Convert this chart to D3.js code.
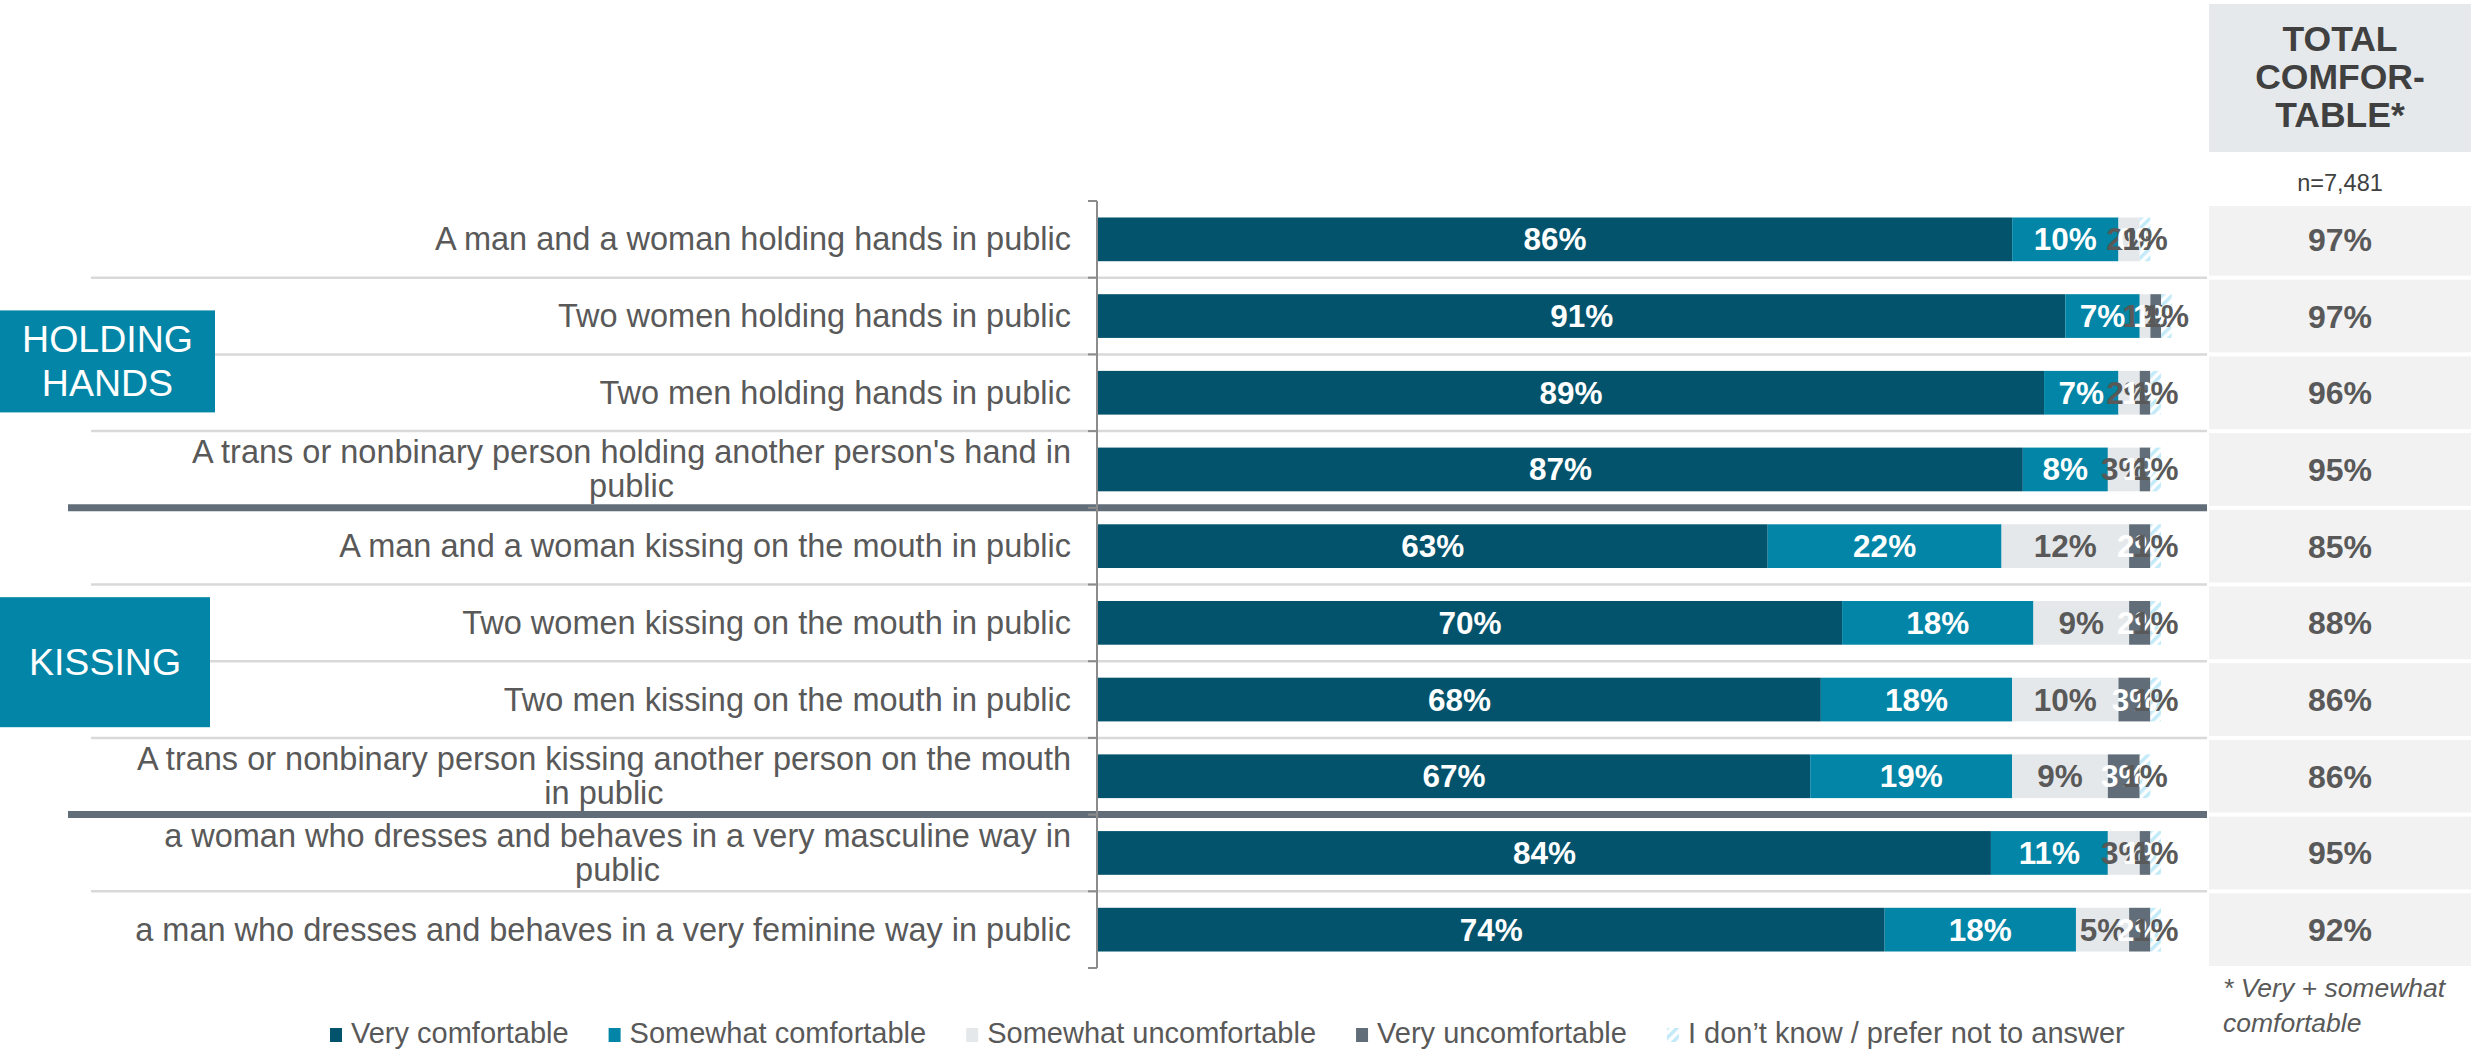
<!DOCTYPE html>
<html><head><meta charset="utf-8">
<script src="https://cdn.jsdelivr.net/npm/d3@7"></script>
<style>
body{margin:0;background:#fff;}
svg{display:block;font-family:"Liberation Sans",Arial,Helvetica,sans-serif;}
</style>
</head><body>
<svg id="chart" width="2483" height="1050"></svg>
<script>
// ---------- DATA ----------
const categories = [
  "A man and a woman holding hands in public",
  "Two women holding hands in public",
  "Two men holding hands in public",
  "A trans or nonbinary person holding another person's hand in\npublic",
  "A man and a woman kissing on the mouth in public",
  "Two women kissing on the mouth in public",
  "Two men kissing on the mouth in public",
  "A trans or nonbinary person kissing another person on the mouth\nin public",
  "a woman who dresses and behaves in a very masculine way in\npublic",
  "a man who dresses and behaves in a very feminine way in public"
];
const seriesNames = ["Very comfortable", "Somewhat comfortable", "Somewhat uncomfortable", "Very uncomfortable", "I don\u2019t know / prefer not to answer"];
const veryComfortable      = [86, 91, 89, 87, 63, 70, 68, 67, 84, 74];
const somewhatComfortable  = [10,  7,  7,  8, 22, 18, 18, 19, 11, 18];
const somewhatUncomfortable= [ 2,  1,  2,  3, 12,  9, 10,  9,  3,  5];
const veryUncomfortable    = [ 0,  1,  1,  1,  2,  2,  3,  3,  1,  2];
const dontKnow             = [ 1,  1,  1,  1,  1,  1,  1,  1,  1,  1];
const totalComfortable     = [97, 97, 96, 95, 85, 88, 86, 86, 95, 92];
const groupNames = [["HOLDING", "HANDS"], ["KISSING"]];
const groupFirstRow = [0, 4];
const groupLastRow  = [3, 7];
const totalHeader = ["TOTAL", "COMFOR-", "TABLE*"];
const sampleSize = "n=7,481";
const footnote = ["* Very + somewhat", "comfortable"];

// ---------- STYLE ----------
const colors = ["#03536c", "#0285a6", "#e5e8eb", "#616e79", "url(#hatch)"];
const labelColors = ["#ffffff", "#ffffff", "#595959", "#ffffff", "#595959"];
const textGrey = "#595959";

const svg = d3.select("#chart");
const defs = svg.append("defs");
const pat = defs.append("pattern").attr("id", "hatch")
  .attr("patternUnits", "userSpaceOnUse").attr("width", 7).attr("height", 7)
  .attr("patternTransform", "rotate(45)");
pat.append("rect").attr("width", 7).attr("height", 7).attr("fill", "#ffffff");
pat.append("rect").attr("width", 3.5).attr("height", 7).attr("fill", "#c2eaf8");

const keys = ["s0", "s1", "s2", "s3", "s4"];
const table = categories.map((c, i) => ({
  idx: i,
  s0: veryComfortable[i], s1: somewhatComfortable[i], s2: somewhatUncomfortable[i],
  s3: veryUncomfortable[i], s4: dontKnow[i]
}));
const stacked = d3.stack().keys(keys)(table);

const x = d3.scaleLinear().domain([0, 100]).range([1098, 2161]);
const y = d3.scaleBand().domain(d3.range(categories.length))
  .range([201, 968]).paddingInner(0.43).paddingOuter(0.215);
const step = y.step();
const top0 = y.range()[0];
const boundary = k => top0 + k * step;
const center = i => y(i) + y.bandwidth() / 2;

// ---------- RIGHT COLUMN ----------
const colX0 = 2209, colX1 = 2471, colCx = (colX0 + colX1) / 2;
svg.append("rect").attr("x", colX0).attr("y", 4).attr("width", colX1 - colX0).attr("height", 148)
  .attr("fill", "#e5e9ec");
svg.append("g").selectAll("text").data(totalHeader).join("text")
  .attr("x", colCx).attr("y", (d, i) => 51 + i * 38)
  .attr("text-anchor", "middle").attr("font-size", 35.5).attr("font-weight", "bold")
  .attr("fill", "#404040").text(d => d);
svg.append("text").attr("x", colCx).attr("y", 191).attr("text-anchor", "middle")
  .attr("font-size", 23.5).attr("fill", "#404040").text(sampleSize);

svg.append("g").selectAll("rect").data(totalComfortable).join("rect")
  .attr("x", colX0).attr("width", colX1 - colX0)
  .attr("y", (d, i) => boundary(i) + (i === 0 ? 5 : 2))
  .attr("height", (d, i) => step - (i === 0 ? 7 : 4))
  .attr("fill", "#f2f2f2");
svg.append("g").selectAll("text").data(totalComfortable).join("text")
  .attr("x", colCx).attr("y", (d, i) => center(i) + 11.5)
  .attr("text-anchor", "middle").attr("font-size", 32).attr("font-weight", "bold")
  .attr("fill", textGrey).text(d => d + "%");

// ---------- SEPARATORS ----------
const boldRows = groupLastRow.map(r => r + 1);
const sepG = svg.append("g");
d3.range(1, categories.length).forEach(k => {
  const bold = boldRows.includes(k);
  sepG.append("line")
    .attr("x1", bold ? 68 : 91).attr("x2", 2207)
    .attr("y1", boundary(k)).attr("y2", boundary(k))
    .attr("stroke", bold ? "#616e79" : "#d9d9d9")
    .attr("stroke-width", bold ? 7 : 2.5);
});

// ---------- GROUP BOXES ----------
const groupBoxH = [102, 130], groupBoxW = [215, 210], groupBoxOff = [7, 1];
groupNames.forEach((g, gi) => {
  const cy = (center(groupFirstRow[gi]) + center(groupLastRow[gi])) / 2 + groupBoxOff[gi];
  const h = groupBoxH[gi];
  svg.append("rect").attr("x", 0).attr("y", cy - h / 2).attr("width", groupBoxW[gi]).attr("height", h)
    .attr("fill", "#0285a6");
  const lh = 44;
  svg.append("g").selectAll("text").data(g).join("text")
    .attr("x", groupBoxW[gi] / 2)
    .attr("y", (d, i) => cy - (g.length - 1) * lh / 2 + i * lh + 13)
    .attr("text-anchor", "middle").attr("font-size", 37.5).attr("fill", "#ffffff").text(d => d);
});

// ---------- BARS ----------
const barG = svg.append("g");
stacked.forEach((s, si) => {
  barG.append("g").selectAll("rect").data(s).join("rect")
    .attr("x", d => x(d[0])).attr("width", d => x(d[1]) - x(d[0]))
    .attr("y", (d, i) => y(i)).attr("height", y.bandwidth())
    .attr("fill", colors[si]);
});
stacked.forEach((s, si) => {
  barG.append("g").selectAll("text").data(s).join("text")
    .attr("x", d => (x(d[0]) + x(d[1])) / 2)
    .attr("y", (d, i) => center(i) + 11)
    .attr("text-anchor", "middle").attr("font-size", 31.5).attr("font-weight", "bold")
    .attr("fill", labelColors[si])
    .text(d => (d[1] - d[0]) + "%");
});

// ---------- AXIS ----------
const axG = svg.append("g");
axG.append("line").attr("x1", 1097).attr("x2", 1097).attr("y1", top0).attr("y2", boundary(categories.length))
  .attr("stroke", "#8c8c8c").attr("stroke-width", 2);
d3.range(0, categories.length + 1).forEach(k => {
  axG.append("line").attr("x1", 1088).attr("x2", 1097).attr("y1", boundary(k)).attr("y2", boundary(k))
    .attr("stroke", "#8c8c8c").attr("stroke-width", 2);
});

// ---------- CATEGORY LABELS ----------
const catG = svg.append("g").attr("font-size", 32.5).attr("fill", textGrey);
categories.forEach((c, i) => {
  const lines = c.split("\n");
  const lh = 34;
  const t = catG.append("text").attr("text-anchor", "middle");
  const tspans = lines.map((ln, li) => t.append("tspan")
    .attr("y", center(i) - (lines.length - 1) * lh / 2 + li * lh + 11).text(ln));
  const w = d3.max(tspans, ts => ts.node().getComputedTextLength());
  const cx = 1071 - w / 2;
  tspans.forEach(ts => ts.attr("x", cx));
});

// ---------- LEGEND ----------
const legG = svg.append("g");
let lx = 330;
seriesNames.forEach((n, si) => {
  legG.append("rect").attr("x", lx).attr("y", 1028).attr("width", 12).attr("height", 14).attr("fill", colors[si]);
  const t = legG.append("text").attr("x", lx + 21).attr("y", 1043).attr("font-size", 29)
    .attr("fill", textGrey).text(n);
  lx = lx + 21 + t.node().getComputedTextLength() + 40;
});

// ---------- FOOTNOTE ----------
svg.append("g").selectAll("text").data(footnote).join("text")
  .attr("x", 2223).attr("y", (d, i) => 997 + i * 35)
  .attr("font-size", 26.5).attr("font-style", "italic").attr("fill", textGrey).text(d => d);
</script>
</body></html>
